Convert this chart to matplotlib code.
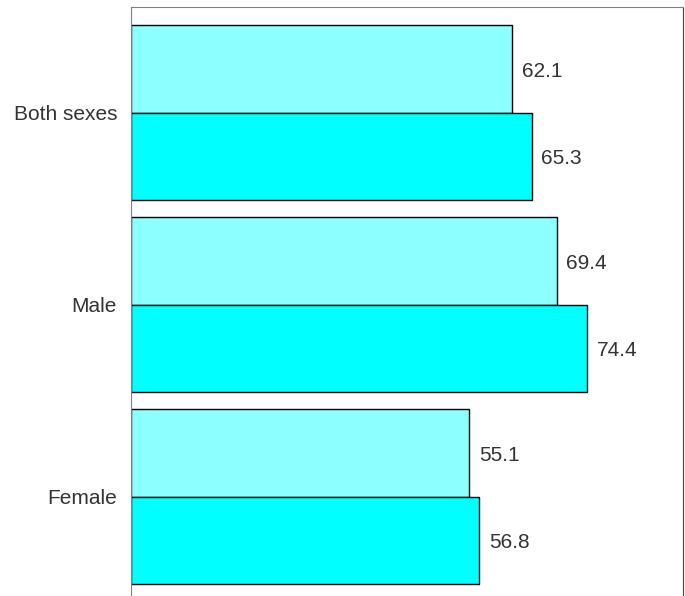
import numpy as np
import matplotlib.pyplot as plt

plt.rcParams['font.family'] = ['Liberation Sans', 'DejaVu Sans']

groups = ['Both sexes', 'Male', 'Female']
first_vals = [62.1, 69.4, 55.1]
second_vals = [65.3, 74.4, 56.8]

light = '#8cffff'
dark = '#00ffff'


def main():
    fig = plt.figure(figsize=(6.85, 5.96), dpi=100)
    ax = fig.add_axes([131 / 685, -0.010, (683 - 131) / 685, 0.998])

    y = np.arange(len(groups))
    h = 0.455
    ax.barh(y - h / 2, first_vals, height=h, color=light, edgecolor='black', linewidth=1)
    ax.barh(y + h / 2, second_vals, height=h, color=dark, edgecolor='black', linewidth=1)

    # value labels just right of each bar
    for i in range(len(groups)):
        ax.text(first_vals[i] + 1.6, y[i] - h / 2 + 0.012, '%.1f' % first_vals[i],
                va='center', ha='left', fontsize=15, color='#333333')
        ax.text(second_vals[i] + 1.6, y[i] + h / 2 + 0.012, '%.1f' % second_vals[i],
                va='center', ha='left', fontsize=15, color='#333333')

    ax.set_xlim(0, 90)
    ax.set_ylim(2.549, -0.549)
    ax.set_yticks(y)
    ax.set_yticklabels(groups, fontsize=15, color='#333333')
    ax.tick_params(axis='y', length=0, pad=10)
    ax.set_xticks([])

    for side in ['left', 'top']:
        ax.spines[side].set_color('#808080')
    ax.spines['right'].set_color('#444444')
    ax.spines['bottom'].set_visible(False)

    fig.savefig('out.png', dpi=100)


if __name__ == "__main__":
    main()
